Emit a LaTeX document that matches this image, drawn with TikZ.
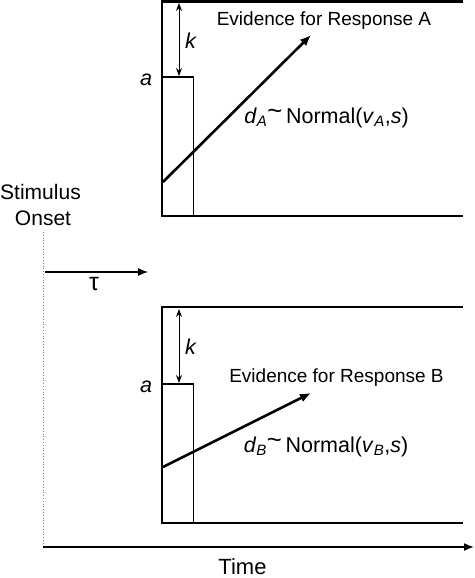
\documentclass[tikz,border=0pt]{standalone}
\usepackage{fontspec}
\setmainfont{Liberation Sans}
\usetikzlibrary{arrows.meta}
\tikzset{
  frame/.style={line width=2.2pt, line cap=rect},
  startbox/.style={line width=1.2pt},
  drift/.style={line width=2.6pt, -{Latex[length=11pt,width=9pt]}},
  gap/.style={line width=1pt, {Stealth[length=8pt,width=6pt]}-{Stealth[length=8pt,width=6pt]}},
  lab/.style={inner sep=0pt, font=\fontsize{19}{22}\selectfont},
  biglab/.style={inner sep=0pt, font=\fontsize{21.5}{25}\selectfont},
  onset/.style={line width=0.8pt, dotted, gray},
  taxis/.style={line width=1.6pt, -{Latex[length=10pt,width=8pt]}},
  tauarrow/.style={line width=1.3pt, -{Latex[length=10pt,width=8pt]}}
}
\newcommand{\drifttext}[1]{\textit{d}\textsubscript{\textit{#1}}\raisebox{0.4ex}{\scalebox{1.2}{\textasciitilde}}\,Normal(\textit{v}\textsubscript{\textit{#1}},\textit{s})}
\begin{document}
\begin{tikzpicture}[x=1pt,y=-1pt]
\useasboundingbox (0,0) rectangle (474,578);
% ---------- top panel ----------
\coordinate (At) at (462,1.5);
\coordinate (Atl) at (162,1.5);
\coordinate (Abl) at (162,216);
\coordinate (Ab) at (462,216);
\draw[frame] (At) -- (Atl) -- (Abl) -- (Ab);
\coordinate (Ar1) at (162,77);
\coordinate (Ar2) at (193.5,216);
\draw[startbox] (Ar1) rectangle (Ar2);
\coordinate (Ak1) at (179,3);
\coordinate (Ak2) at (179,76);
\draw[gap] (Ak1) -- (Ak2);
\node[biglab] (Ak) at (191,41) {\textit{k}};
\node[biglab] (Aa) at (146,80) {\textit{a}};
\coordinate (As) at (163,182);
\coordinate (Ae) at (311,35);
\draw[drift] (As) -- (Ae);
\node[lab] (Aev) at (324,21) {Evidence for Response A};
\node[biglab] (Ad) at (326.5,118) {\drifttext{A}};
% ---------- bottom panel ----------
\coordinate (Bt) at (462,307);
\coordinate (Btl) at (162,307);
\coordinate (Bbl) at (162,523);
\coordinate (Bb) at (462,523);
\draw[frame] (Bt) -- (Btl) -- (Bbl) -- (Bb);
\coordinate (Br1) at (162,384);
\coordinate (Br2) at (193.5,523);
\draw[startbox] (Br1) rectangle (Br2);
\coordinate (Bk1) at (179,309);
\coordinate (Bk2) at (179,383);
\draw[gap] (Bk1) -- (Bk2);
\node[biglab] (Bk) at (191,347) {\textit{k}};
\node[biglab] (Ba) at (146,387) {\textit{a}};
\coordinate (Bs) at (163,467);
\coordinate (Be) at (311,393);
\draw[drift] (Bs) -- (Be);
\node[lab] (Bev) at (336.5,378) {Evidence for Response B};
\node[biglab] (Bd) at (326,447) {\drifttext{B}};
% ---------- onset and time ----------
\node[lab, font=\fontsize{21}{24}\selectfont] (stim) at (40.5,192) {Stimulus};
\node[lab, font=\fontsize{21}{24}\selectfont] (ons) at (43,218) {Onset};
\coordinate (d1) at (43,232);
\coordinate (d2) at (43,547);
\draw[onset] (d1) -- (d2);
\coordinate (t1) at (45,272);
\coordinate (t2) at (148,272);
\draw[tauarrow] (t1) -- (t2);
\node[lab, font=\fontsize{25}{28}\selectfont] (tau) at (94,284) {τ};
\coordinate (x1) at (43,547);
\coordinate (x2) at (474,547);
\draw[taxis] (x1) -- (x2);
\node[lab, font=\fontsize{22}{26}\selectfont] (time) at (242.5,567) {Time};
\end{tikzpicture}
\end{document}
